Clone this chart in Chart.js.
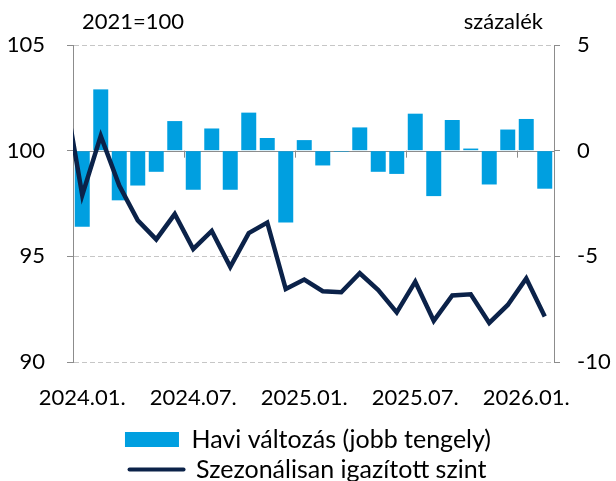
<!DOCTYPE html>
<html>
<head>
<meta charset="utf-8">
<script src="https://cdn.jsdelivr.net/npm/chart.js@4"></script>
<style>
	body { margin: 0; background: #fff; }
	#wrap { width: 616px; height: 481px; }
</style>
</head>
<body>
<div id="wrap"><canvas id="ceny" width="616" height="481"></canvas></div>
<script>

// first label is only there so the line enters from the left edge
const months = ['2023.12.',
	'2024.01.', '2024.02.', '2024.03.', '2024.04.', '2024.05.', '2024.06.',
	'2024.07.', '2024.08.', '2024.09.', '2024.10.', '2024.11.', '2024.12.',
	'2025.01.', '2025.02.', '2025.03.', '2025.04.', '2025.05.', '2025.06.',
	'2025.07.', '2025.08.', '2025.09.', '2025.10.', '2025.11.', '2025.12.',
	'2026.01.', '2026.02.'];

const havi_valtozas = [null,
	-3.6, 2.9, -2.35, -1.65, -1.0, 1.4,
	-1.85, 1.05, -1.85, 1.8, 0.6, -3.4,
	0.5, -0.7, -0.05, 1.1, -1.0, -1.1,
	1.75, -2.15, 1.45, 0.1, -1.6, 1.0,
	1.5, -1.8];

const szint = [103.0,
	97.9, 100.7, 98.35, 96.7, 95.8, 97.0,
	95.35, 96.2, 94.5, 96.1, 96.6, 93.45,
	93.9, 93.35, 93.3, 94.2, 93.4, 92.35,
	93.8, 91.95, 93.15, 93.2, 91.85, 92.7,
	93.95, 92.15];

const left_ticks = [90, 95, 100, 105];
const right_ticks = [-10, -5, 0, 5];
const shown_months = ['01', '07'];

const BLUE = '#009fe0';
const NAVY = '#0b2249';
const AXIS = '#8c8c8c';
const GRID = '#c6c6c6';
const FONT = { family: 'Lato', size: 22 };

Chart.defaults.font.family = 'Lato';
Chart.defaults.color = '#000';

function is_shown(label) {
	const m = label.split('.')[1];
	return shown_months.indexOf(m) >= 0;
}

// zero line of the right axis, with small ticks every half year
const zero_line = {
	id: 'zero_line',
	beforeDatasetsDraw(chart) {
		const ctx = chart.ctx;
		const area = chart.chartArea;
		const x = chart.scales.x;
		const y0 = chart.scales.y2.getPixelForValue(0);
		ctx.save();
		ctx.strokeStyle = AXIS;
		ctx.lineWidth = 1;
		ctx.beginPath();
		ctx.moveTo(area.left, Math.round(y0) + 0.5);
		ctx.lineTo(area.right, Math.round(y0) + 0.5);
		for (let i = 2; i < months.length; i++) {
			if (!is_shown(months[i])) continue;
			const bx = Math.round((x.getPixelForValue(i - 1) + x.getPixelForValue(i)) / 2) + 0.5;
			ctx.moveTo(bx, y0);
			ctx.lineTo(bx, y0 + 7);
		}
		ctx.stroke();
		ctx.restore();
	}
};

const titles = {
	id: 'titles',
	afterDraw(chart) {
		const ctx = chart.ctx;
		ctx.save();
		ctx.font = '22px Lato';
		ctx.fillStyle = '#000';
		ctx.textBaseline = 'middle';
		ctx.textAlign = 'left';
		ctx.fillText('2021=100', 82, 22);
		ctx.textAlign = 'right';
		ctx.fillText('százalék', 543, 22);
		ctx.restore();
	}
};

function generate_chart() {
	const canvas = document.getElementById('ceny');
	const ctx = canvas.getContext('2d');

	const myChart = new Chart(ctx, {
		type: 'bar',
		data: {
			labels: months,
			datasets: [{
				label: 'Havi változás (jobb tengely)',
				data: havi_valtozas,
				yAxisID: 'y2',
				backgroundColor: BLUE,
				borderWidth: 0,
				barPercentage: 0.81,
				categoryPercentage: 1,
				order: 1
			}, {
				type: 'line',
				label: 'Szezonálisan igazított szint',
				data: szint,
				yAxisID: 'y',
				borderColor: NAVY,
				borderWidth: 4.5,
				borderJoinStyle: 'miter',
				pointRadius: 0,
				tension: 0,
				order: 0
			}]
		},
		options: {
			responsive: false,
			animation: false,
			layout: {
				padding: { top: 45, left: 0, right: 0, bottom: -11 }
			},
			plugins: {
				tooltip: { enabled: false },
				legend: {
					position: 'bottom',
					labels: {
						usePointStyle: true,
						pointStyleWidth: 54,
						boxHeight: 15,
						padding: 5,
						font: { family: 'Lato', size: 25 },
						color: '#000',
						generateLabels: () => [{
							text: 'Havi változás (jobb tengely)',
							fillStyle: BLUE,
							strokeStyle: BLUE,
							lineWidth: 0,
							pointStyle: 'rect',
							datasetIndex: 0,
							hidden: false
						}, {
							text: 'Szezonálisan igazított szint',
							fillStyle: NAVY,
							strokeStyle: NAVY,
							lineWidth: 4,
							lineCap: 'round',
							pointStyle: 'line',
							datasetIndex: 1,
							hidden: false
						}]
					}
				}
			},
			scales: {
				x: {
					type: 'category',
					min: '2024.01.',
					offset: true,
					grid: { display: false, drawTicks: false },
					border: { display: false },
					ticks: {
						autoSkip: false,
						maxRotation: 0,
						minRotation: 0,
						padding: 23,
						font: FONT,
						callback: function (val) {
							const l = this.getLabelForValue(val);
							return is_shown(l) ? l : '';
						}
					},
					afterFit: (s) => { s.height = 60; }
				},
				y: {
					position: 'left',
					min: left_ticks[0],
					max: left_ticks[left_ticks.length - 1],
					afterBuildTicks: (s) => { s.ticks = left_ticks.map(v => ({ value: v })); },
					grid: {
						color: (c) => c.tick && c.tick.value === 100 ? 'rgba(0,0,0,0)' : GRID,
						tickColor: AXIS,
						tickLength: 6
					},
					border: { color: AXIS, width: 1, dash: [5, 3] },
					ticks: { padding: 22, font: FONT },
					afterFit: (s) => { s.width = 73; }
				},
				y2: {
					position: 'right',
					min: right_ticks[0],
					max: right_ticks[right_ticks.length - 1],
					afterBuildTicks: (s) => { s.ticks = right_ticks.map(v => ({ value: v })); },
					grid: {
						drawOnChartArea: false,
						tickColor: AXIS,
						tickLength: 6
					},
					border: { color: AXIS, width: 1 },
					ticks: { padding: 17, font: FONT },
					afterFit: (s) => { s.width = 62; }
				}
			}
		},
		plugins: [zero_line, titles]
	});
}

generate_chart();
</script>
</body>
</html>
